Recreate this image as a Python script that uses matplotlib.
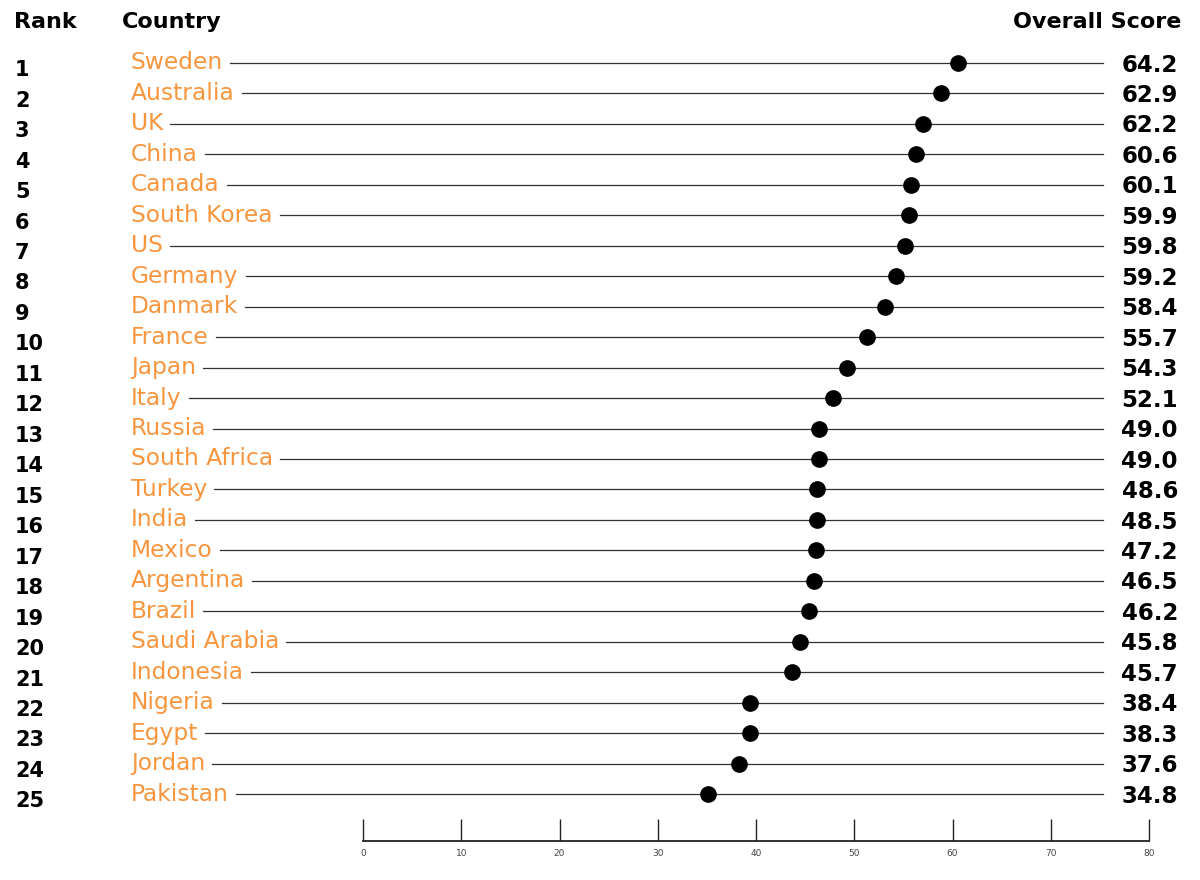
import matplotlib
matplotlib.use("Agg")
import matplotlib.pyplot as plt
from matplotlib.transforms import blended_transform_factory

countries = ["Sweden", "Australia", "UK", "China", "Canada", "South Korea", "US",
             "Germany", "Danmark", "France", "Japan", "Italy", "Russia", "South Africa",
             "Turkey", "India", "Mexico", "Argentina", "Brazil", "Saudi Arabia",
             "Indonesia", "Nigeria", "Egypt", "Jordan", "Pakistan"]
ranks = list(range(1, 26))
scores = [64.2, 62.9, 62.2, 60.6, 60.1, 59.9, 59.8, 59.2, 58.4, 55.7, 54.3, 52.1,
          49.0, 49.0, 48.6, 48.5, 47.2, 46.5, 46.2, 45.8, 45.7, 38.4, 38.3, 37.6, 34.8]
# dot positions as drawn on the axis
dot_values = [60.6, 58.8, 57.0, 56.3, 55.8, 55.6, 55.2, 54.2, 53.1, 51.3, 49.3, 47.8,
              46.4, 46.4, 46.2, 46.2, 46.1, 45.9, 45.4, 44.5, 43.7, 39.4, 39.4, 38.3, 35.1]
xticks = [0, 10, 20, 30, 40, 50, 60, 70, 80]

W, H = 1200, 880
fig = plt.figure(figsize=(12, 8.8), dpi=100)
ax_left, ax_right = 363 / W, 1149 / W
ax_bottom, ax_top = 1 - 841 / H, 1 - 48 / H
ax = fig.add_axes([ax_left, ax_bottom, ax_right - ax_left, ax_top - ax_bottom])
ax.set_xlim(0, 80)
ax.set_ylim(25.54, -0.49)
for s in ["top", "left", "right"]:
    ax.spines[s].set_visible(False)
ax.spines["bottom"].set_linewidth(1.3)
ax.spines["bottom"].set_color("#222222")
ax.set_yticks([])
ax.set_xticks(xticks)
ax.set_xticklabels([str(t) for t in xticks])
ax.tick_params(axis="x", direction="in", length=16, width=1.0, color="#222222",
               labelsize=6.5, labelcolor="#444444", pad=6)

orange = "#F7963F"
font = "DejaVu Sans"
trans = blended_transform_factory(fig.transFigure, ax.transData)

fig.canvas.draw()
renderer = fig.canvas.get_renderer()
inv = ax.transData.inverted()

line_end = 75.3
for i, (c, r, s, d) in enumerate(zip(countries, ranks, scores, dot_values)):
    t = fig.text(131 / W, i, c, transform=trans, color=orange, fontsize=16.8,
                 family=font, va="center", ha="left")
    bb = t.get_window_extent(renderer)
    x0 = inv.transform((bb.x1 + 7, 0))[0]
    ax.plot([x0, line_end], [i, i], color="#333333", lw=0.9, clip_on=False, zorder=1)
    ax.plot([d], [i], "o", color="black", ms=11, clip_on=False, zorder=3)
    fig.text(15 / W, i + 0.24, str(r), transform=trans, color="black", fontsize=15,
             family=font, fontweight="bold", va="center", ha="left")
    fig.text(1178 / W, i + 0.07, f"{s:.1f}", transform=trans, color="black",
             fontsize=16.5, family=font, fontweight="bold", va="center", ha="right")

fig.text(14 / W, 1 - 22 / H, "Rank", color="black", fontsize=16, family=font,
         fontweight="bold", va="center", ha="left")
fig.text(122 / W, 1 - 22 / H, "Country", color="black", fontsize=16, family=font,
         fontweight="bold", va="center", ha="left")
fig.text(1181 / W, 1 - 22 / H, "Overall Score", color="black", fontsize=16,
         family=font, fontweight="bold", va="center", ha="right")

fig.savefig("out.png", dpi=100, facecolor="white")
